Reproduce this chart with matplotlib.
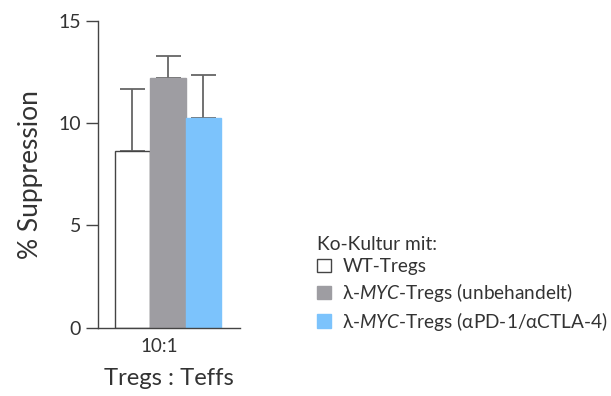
import matplotlib.pyplot as plt
from matplotlib.patches import Patch

plt.rcParams['font.family'] = ['Lato', 'DejaVu Sans']
plt.rcParams['mathtext.fontset'] = 'custom'
plt.rcParams['mathtext.rm'] = 'Lato'
plt.rcParams['mathtext.it'] = 'Lato:italic'

# suppression at Tregs:Teffs 10:1, mean and SEM per co-culture
groups = ['WT-Tregs',
          'λ-$\\mathit{MYC}$-Tregs (unbehandelt)',
          'λ-$\\mathit{MYC}$-Tregs (αPD-1/αCTLA-4)']
means = [8.64, 12.20, 10.25]
errs = [3.01, 1.09, 2.07]
colors = ['white', '#9e9da2', '#7cc3fc']
edges = ['#444444', '#9e9da2', '#7cc3fc']
ratio = '10:1'

txt = '#333333'
fig = plt.figure(figsize=(6.11, 3.96), dpi=100)
ax = fig.add_axes([0.160, 0.172, 0.233, 0.776])

xs = [-1, 0, 1]
ax.bar(xs, means, width=1.0, color=colors, edgecolor=edges, linewidth=1.0, zorder=2)
ax.errorbar(xs, means, yerr=[[0, 0, 0], errs], fmt='none', ecolor='#666666',
            elinewidth=1.3, capsize=9, capthick=1.3, zorder=1)

ax.set_ylim(0, 15)
ax.set_xlim(-1.98, 2.04)
ax.set_yticks([0, 5, 10, 15])
ax.set_xticks([-0.25])
ax.set_xticklabels([ratio])
ax.tick_params(axis='y', length=9, width=1, colors='#444444', labelcolor=txt, labelsize=14, pad=3)
ax.tick_params(axis='x', length=0, labelcolor=txt, labelsize=13.5, pad=7)
for s in ['top', 'right']:
    ax.spines[s].set_visible(False)
for s in ['left', 'bottom']:
    ax.spines[s].set_color('#444444')
    ax.spines[s].set_linewidth(1)

ax.set_ylabel('% Suppression', fontsize=19, color=txt, labelpad=11)
ax.set_xlabel('Tregs : Teffs', fontsize=17.2, color=txt, labelpad=10)

handles = [Patch(facecolor=c, edgecolor=('#444444' if c == 'white' else c), linewidth=1)
           for c in colors]
leg = fig.legend(handles, groups, title='Ko-Kultur mit:', loc='upper left',
                 bbox_to_anchor=(0.519, 0.405), frameon=False, fontsize=13.7,
                 title_fontsize=13.8, alignment='left', handlelength=0.72,
                 handleheight=0.72, handletextpad=0.6, labelspacing=0.3,
                 borderpad=0, borderaxespad=0)
leg.get_title().set_color(txt)
for t in leg.get_texts():
    t.set_color(txt)

fig.savefig('out.png', dpi=100)
